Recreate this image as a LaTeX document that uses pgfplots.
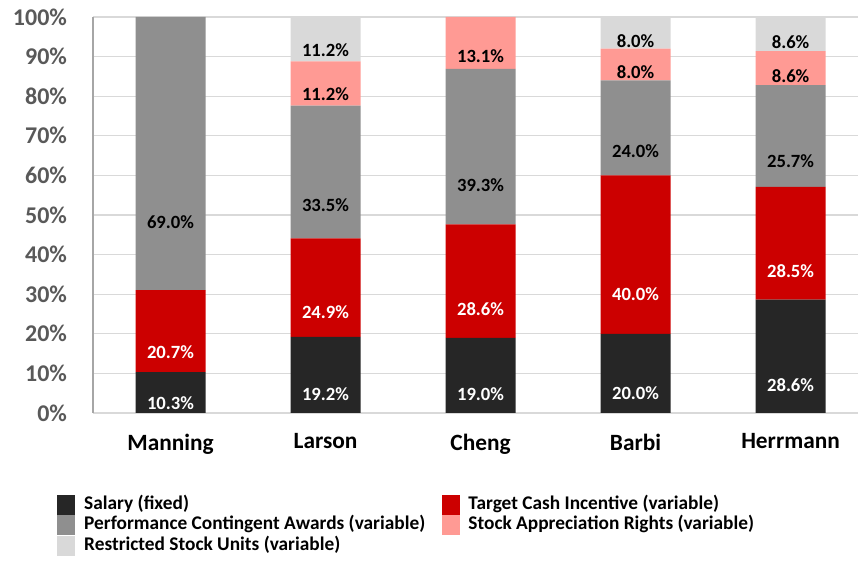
\documentclass[border=0pt]{standalone}
\usepackage{pgfplots}
\pgfplotsset{compat=1.18}
\usepackage{pgfplotstable}
\usepackage{fontspec}
\setmainfont{Carlito}

\definecolor{salary}{HTML}{262626}
\definecolor{tci}{HTML}{CC0000}
\definecolor{pca}{HTML}{8F8F8F}
\definecolor{sar}{HTML}{FF9A94}
\definecolor{rsu}{HTML}{D9D9D9}
\definecolor{ticktext}{HTML}{595959}

% share of pay by component, in percent
\pgfplotstableread{
x salary tci  pca  sar  rsu
0 10.3   20.7 69.0 0    0
1 19.2   24.9 33.5 11.2 11.2
2 19.0   28.6 39.3 13.1 0
3 20.0   40.0 24.0 8.0  8.0
4 28.6   28.5 25.7 8.6  8.6
}\paydata

\pgfplotsset{
  half offset/.code={%
    \pgfkeys{/pgf/fpu=true,/pgf/fpu/output format=fixed}%
    \pgfmathsetmacro\halfoff{\pgfplotspointmeta*0.7425}%
    \pgfkeys{/pgf/fpu=false}%
  },
  mid label/.style={
    nodes near coords={\pgfmathfloatifflags{\pgfplotspointmeta}{0}{}{\pgfmathprintnumber[fixed,fixed zerofill,precision=1]{\pgfplotspointmeta}\%}},
    every node near coord/.append style={font=\bfseries\fontsize{14}{14}\selectfont,
      text=#1, anchor=center, /pgfplots/half offset, yshift=-\halfoff pt},
  },
}

\begin{document}
\begin{tikzpicture}
\useasboundingbox (-69.75pt,-112.5pt) rectangle (573.75pt,309.75pt);
\begin{axis}[
  at={(0pt,0pt)}, anchor=south west,
  scale only axis, width=573.75pt, height=297pt,
  ybar stacked, bar width=52.5pt,
  xmin=-0.5, xmax=4.435, ymin=0, ymax=100,
  xtick={0,...,4}, xticklabels={Manning,Larson,Cheng,Barbi,Herrmann},
  ytick={0,10,...,100},
  yticklabel={\pgfmathprintnumber{\tick}\%},
  /pgf/number format/assume math mode=true,
  major tick length=0pt,
  ymajorgrids, grid style={draw=rsu, line width=0.8pt},
  axis x line*=bottom, axis y line*=left,
  x axis line style={draw=none},
  y axis line style={draw=black!35, line width=1pt},
  xticklabel style={font=\bfseries\fontsize{17.5}{18}\selectfont, text=black, yshift=-12pt},
  yticklabel style={font=\bfseries\fontsize{18}{18}\selectfont, text=ticktext, xshift=-16pt},
  legend columns=2, legend cell align=left,
  legend style={draw=none, fill=none, inner sep=0pt,
    at={(axis description cs:-0.047,-0.205)}, anchor=north west,
    font=\bfseries\fontsize{14.5}{14.5}\selectfont,
    nodes={inner sep=1.2pt, text height=10pt, text depth=3pt},
    /tikz/every odd column/.append style={column sep=5.5pt},
    /tikz/every even column/.append style={column sep=11pt}},
  legend image code/.code={\fill[#1] (0pt,-7.5pt) rectangle (13.5pt,7.5pt);},
]
\addplot[fill=salary, draw=none, mid label=white] table[x=x, y=salary] {\paydata};
\addplot[fill=tci, draw=none, mid label=white] table[x=x, y=tci] {\paydata};
\addplot[fill=pca, draw=none, mid label=black] table[x=x, y=pca] {\paydata};
\addplot[fill=sar, draw=none, mid label=black] table[x=x, y=sar] {\paydata};
\addplot[fill=rsu, draw=none, mid label=black] table[x=x, y=rsu] {\paydata};
\legend{Salary (fixed), Target Cash Incentive (variable),
  Performance Contingent Awards (variable), Stock Appreciation Rights (variable),
  Restricted Stock Units (variable)}
\end{axis}
\end{tikzpicture}
\end{document}
